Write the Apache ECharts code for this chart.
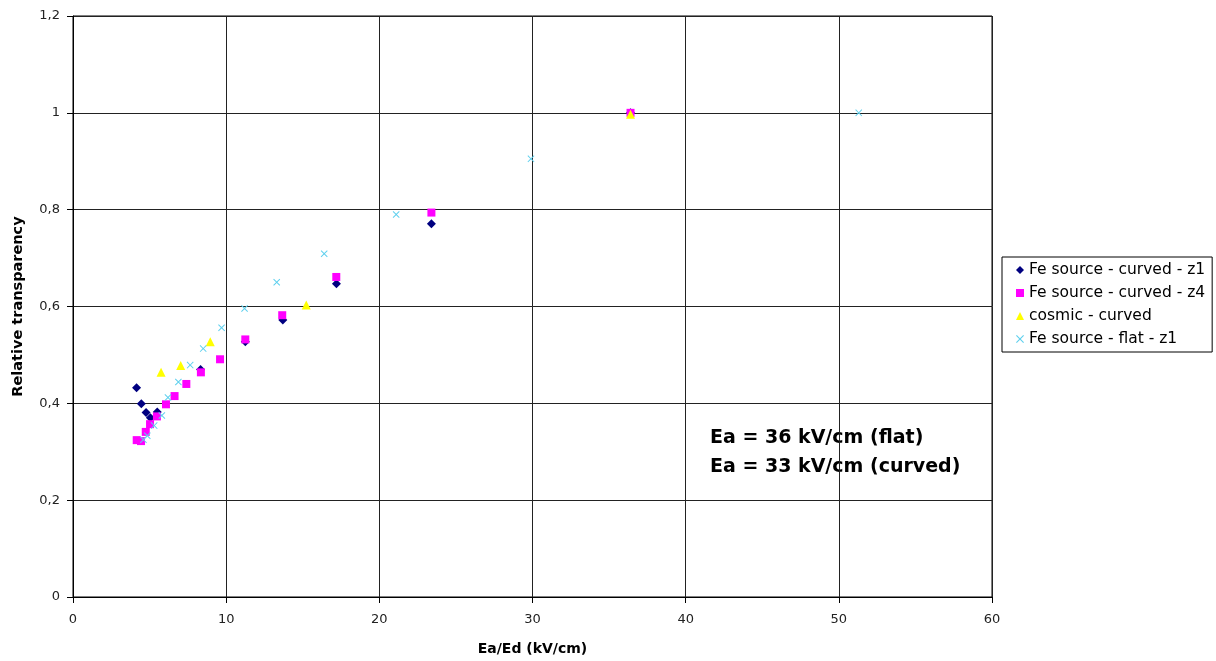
<!DOCTYPE html>
<html>
<head>
<meta charset="utf-8">
<script src="https://cdn.jsdelivr.net/npm/echarts@6/dist/echarts.min.js"></script>
<style>html,body{margin:0;padding:0;background:#fff}#c{width:1216px;height:661px}</style>
</head>
<body>
<div id="c"></div>
<script>
var seriesNames = ['Fe source - curved - z1', 'Fe source - curved - z4', 'cosmic - curved', 'Fe source - flat - z1'];
var z1X = [4.15, 4.46, 4.77, 5.05, 5.5, 8.33, 11.25, 13.7, 17.2, 23.4, 36.4];
var z1Y = [0.432, 0.399, 0.381, 0.370, 0.382, 0.47, 0.527, 0.572, 0.647, 0.771, 1.0];
var z4X = [4.16, 4.44, 4.75, 5.03, 5.48, 6.07, 6.63, 7.4, 8.35, 9.6, 11.25, 13.66, 17.19, 23.4, 36.4];
var z4Y = [0.324, 0.322, 0.341, 0.357, 0.373, 0.398, 0.415, 0.440, 0.464, 0.491, 0.532, 0.582, 0.661, 0.794, 1.0];
var cosmicX = [5.75, 7.03, 8.96, 15.23, 36.4];
var cosmicY = [0.464, 0.478, 0.527, 0.603, 0.997];
var flatX = [4.6, 4.85, 5.3, 5.8, 6.2, 6.88, 7.65, 8.5, 9.7, 11.2, 13.3, 16.4, 21.1, 29.9, 51.3];
var flatY = [0.325, 0.333, 0.354, 0.375, 0.412, 0.444, 0.479, 0.513, 0.556, 0.596, 0.65, 0.709, 0.79, 0.905, 1.0];
var annotations = ['Ea = 36 kV/cm (flat)', 'Ea = 33 kV/cm (curved)'];

function pairs(xs, ys) { return xs.map(function (x, i) { return [x, ys[i]]; }); }
var crossPath = 'path://M0,1L1,0L5,4L9,0L10,1L6,5L10,9L9,10L5,6L1,10L0,9L4,5Z';

var chart = echarts.init(document.getElementById('c'), null, { renderer: 'canvas' });
var font = 'DejaVu Sans, Verdana, sans-serif';
chart.setOption({
  backgroundColor: '#fff',
  animation: false,
  textStyle: { fontFamily: font },
  grid: { left: 73, right: 224, top: 16, bottom: 63, show: true, borderColor: '#000', borderWidth: 1 },
  xAxis: {
    type: 'value', min: 0, max: 60, interval: 10,
    name: 'Ea/Ed (kV/cm)', nameLocation: 'middle', nameGap: 45,
    nameTextStyle: { fontWeight: 'bold', fontSize: 14, color: '#000', fontFamily: font },
    axisLine: { show: true, lineStyle: { color: '#000', width: 1 } },
    axisTick: { show: true, length: 6, lineStyle: { color: '#000' } },
    axisLabel: { color: '#222', fontSize: 13, margin: 16, fontFamily: font },
    splitLine: { show: true, lineStyle: { color: '#222', width: 1 } }
  },
  yAxis: {
    type: 'value', min: 0, max: 1.2, interval: 0.2,
    name: 'Relative transparency', nameLocation: 'middle', nameGap: 47,
    nameTextStyle: { fontWeight: 'bold', fontSize: 14.5, color: '#000', fontFamily: font },
    axisLine: { show: true, lineStyle: { color: '#000', width: 1 } },
    axisTick: { show: true, length: 6, lineStyle: { color: '#000' } },
    axisLabel: { color: '#222', fontSize: 13, margin: 13, fontFamily: font,
      formatter: function (v) { return String(Math.round(v * 10) / 10).replace('.', ','); } },
    splitLine: { show: true, lineStyle: { color: '#222', width: 1 } }
  },
  legend: {
    orient: 'vertical', left: 1002, top: 257,
    borderColor: '#000', borderWidth: 1, padding: [5, 7, 5, 14],
    itemWidth: 8, itemHeight: 8, itemGap: 7,
    textStyle: { fontSize: 15.5, color: '#000', fontFamily: font },
    data: seriesNames
  },
  series: [
    { name: seriesNames[0], type: 'scatter', symbol: 'diamond', symbolSize: 9,
      itemStyle: { color: '#000080', opacity: 1 }, data: pairs(z1X, z1Y) },
    { name: seriesNames[1], type: 'scatter', symbol: 'rect', symbolSize: 8,
      itemStyle: { color: '#ff00ff', opacity: 1 }, data: pairs(z4X, z4Y) },
    { name: seriesNames[2], type: 'scatter', symbol: 'triangle', symbolSize: 9,
      itemStyle: { color: '#ffff00', opacity: 1 }, data: pairs(cosmicX, cosmicY) },
    { name: seriesNames[3], type: 'scatter', symbol: crossPath, symbolSize: 7,
      itemStyle: { color: '#5fd0ee', opacity: 1 }, data: pairs(flatX, flatY) }
  ],
  graphic: [
    { type: 'text', left: 710, top: 429, style: { text: annotations[0], font: 'bold 19px ' + font, fill: '#000' } },
    { type: 'text', left: 710, top: 458, style: { text: annotations[1], font: 'bold 19px ' + font, fill: '#000' } }
  ]
});
</script>
</body>
</html>
